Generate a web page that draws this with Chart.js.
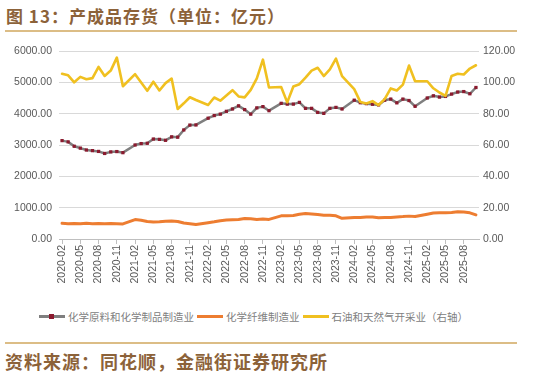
<!DOCTYPE html>
<html>
<head>
<meta charset="utf-8">
<script src="https://cdn.jsdelivr.net/npm/chart.js@4.4.1/dist/chart.umd.min.js"></script>
<style>
  body { margin: 0; width: 545px; height: 376px; background: #fff; position: relative; overflow: hidden; font-family: "Noto Sans CJK SC", sans-serif; }
  .title { position: absolute; left: 6px; top: 3px; font-size: 17px; font-weight: bold; color: #8c6239; letter-spacing: 1px; white-space: nowrap; }
  .rule { position: absolute; left: 5px; width: 512px; height: 2px; background: #dcbd86; }
  .source { position: absolute; left: 5px; top: 348px; font-size: 18px; font-weight: bold; color: #8c6239; letter-spacing: 1px; white-space: nowrap; }
  #chartBox { position: absolute; left: 0; top: 36px; width: 545px; height: 253px; }
  #legend { position: absolute; left: 39px; top: 309px; display: flex; align-items: center; font-size: 10.5px; color: #808080; white-space: nowrap; }
  .item { display: flex; align-items: center; margin-right: 3px; }
  .swatch { position: relative; width: 26px; height: 3px; margin-right: 3px; }
  .swatch i { position: absolute; left: 10px; top: -1px; width: 5px; height: 5px; }
</style>
</head>
<body>
<div class="title">图 13：产成品存货（单位：亿元）</div>
<div class="rule" style="top:30px"></div>
<div id="chartBox"><canvas id="chart"></canvas></div>
<div id="legend"></div>
<div class="rule" style="top:342px"></div>
<div class="source">资料来源：同花顺，金融街证券研究所</div>

<script>
// 月份（1月无单独数据）
const months = [
  '2020-02','2020-03','2020-04','2020-05','2020-06','2020-07','2020-08','2020-09','2020-10','2020-11','2020-12',
  '2021-01','2021-02','2021-03','2021-04','2021-05','2021-06','2021-07','2021-08','2021-09','2021-10','2021-11','2021-12',
  '2022-01','2022-02','2022-03','2022-04','2022-05','2022-06','2022-07','2022-08','2022-09','2022-10','2022-11','2022-12',
  '2023-01','2023-02','2023-03','2023-04','2023-05','2023-06','2023-07','2023-08','2023-09','2023-10','2023-11','2023-12',
  '2024-01','2024-02','2024-03','2024-04','2024-05','2024-06','2024-07','2024-08','2024-09','2024-10','2024-11','2024-12',
  '2025-01','2025-02','2025-03','2025-04','2025-05','2025-06','2025-07','2025-08','2025-09','2025-10'
];

// 化学原料和化学制品制造业（左轴）
const chemRaw = [
  3140, 3100, 2960, 2900, 2840, 2820, 2795, 2730, 2780, 2790, 2755,
  null, 3000, 3045, 3055, 3190, 3180, 3150, 3260, 3250, 3480, 3635, 3640,
  null, 3855, 3940, 3985, 4075, 4150, 4250, 4130, 3985, 4185, 4225, 4095,
  null, 4330, 4305, 4305, 4360, 4170, 4170, 4040, 4010, 4170, 4200, 4150,
  null, 4430, 4350, 4320, 4300, 4280, 4430, 4465, 4345, 4465, 4420, 4235,
  null, 4500, 4570, 4530, 4550, 4625, 4690, 4705, 4635, 4835
];

// 化学纤维制造业（左轴）
const chemFiber = [
  500, 490, 495, 485, 500, 490, 495, 490, 495, 490, 480,
  null, 620, 600, 560, 545, 550, 565, 575, 560, 510, 490, 460,
  null, 520, 550, 585, 605, 615, 625, 655, 645, 625, 635, 625,
  null, 740, 745, 750, 790, 815, 800, 780, 755, 760, 740, 660,
  null, 690, 690, 700, 705, 680, 690, 690, 705, 715, 730, 715,
  null, 790, 830, 836, 836, 845, 868, 860, 836, 770
];

// 石油和天然气开采业（右轴）
const oilGas = [
  105.5, 104.5, 100, 103.5, 102, 102.7, 109.8, 104.1, 107.5, 115.8, 97.5,
  null, 105.2, 99.9, 94.6, 100.4, 94.8, 99.5, 102.4, 83, 86.6, 90.5, 88.7,
  null, 85.5, 90.3, 88.3, 91.6, 95, 91, 90.4, 95.2, 102.5, 114.5, 96.7,
  null, 97, 87.2, 97.3, 98.8, 103, 107.5, 109.3, 104, 108.3, 115.1, 104,
  null, 95.7, 87.5, 86.5, 88, 85.5, 89.3, 96.1, 94.8, 98.5, 110.7, 100.7,
  null, 100.7, 96.2, 93.5, 91.4, 104.1, 105.5, 105, 108.8, 110.9
];

const leftTicks = [0, 1000, 2000, 3000, 4000, 5000, 6000];
const rightTicks = [0, 20, 40, 60, 80, 100, 120];

const names = ['化学原料和化学制品制造业', '化学纤维制造业', '石油和天然气开采业（右轴）'];
const colors = ['#7f7f7f', '#ed7d31', '#f0c020'];
const markerColor = '#8b1a2e';

const tickFont = { family: 'Liberation Sans', size: 10.5 };

const ctx = document.getElementById('chart').getContext('2d');
new Chart(ctx, {
  type: 'line',
  data: {
    labels: months,
    datasets: [
      {
        label: names[0], data: chemRaw, yAxisID: 'y', order: 3,
        borderColor: colors[0], borderWidth: 2.5,
        pointStyle: 'rect', pointRadius: 2.3,
        pointBackgroundColor: markerColor, pointBorderColor: markerColor, pointBorderWidth: 0
      },
      {
        label: names[1], data: chemFiber, yAxisID: 'y', order: 2,
        borderColor: colors[1], borderWidth: 3, pointRadius: 0
      },
      {
        label: names[2], data: oilGas, yAxisID: 'y1', order: 1,
        borderColor: colors[2], borderWidth: 2.6, pointRadius: 0
      }
    ]
  },
  options: {
    responsive: true,
    maintainAspectRatio: false,
    animation: false,
    spanGaps: true,
    layout: { padding: { top: 15, left: 0, right: 0, bottom: 0 } },
    elements: { line: { tension: 0, borderJoinStyle: 'round', borderCapStyle: 'round' } },
    plugins: { legend: { display: false }, tooltip: { enabled: false } },
    scales: {
      x: {
        offset: true,
        grid: { drawOnChartArea: false, drawTicks: true, tickLength: 5, color: '#bfbfbf' },
        border: { color: '#bfbfbf' },
        ticks: {
          autoSkip: false, maxRotation: 90, minRotation: 90, padding: 1,
          color: '#595959', font: tickFont,
          callback: (v, i) => (i % 3 === 0 ? months[i] : null)
        },
        afterFit: (s) => { s.height = 50; }
      },
      y: {
        position: 'left', min: 0, max: 6000,
        afterBuildTicks: (s) => { s.ticks = leftTicks.map(v => ({ value: v })); },
        grid: { color: '#d9d9d9', drawTicks: false },
        border: { display: false },
        ticks: { padding: 7, color: '#595959', font: tickFont, callback: (v) => v.toFixed(2) },
        afterFit: (s) => { s.width = 59; }
      },
      y1: {
        position: 'right', min: 0, max: 120,
        afterBuildTicks: (s) => { s.ticks = rightTicks.map(v => ({ value: v })); },
        grid: { drawOnChartArea: false, drawTicks: false },
        border: { display: false },
        ticks: { padding: 4, color: '#595959', font: tickFont, callback: (v) => v.toFixed(2) },
        afterFit: (s) => { s.width = 66; }
      }
    }
  }
});

// 凡例
const legend = document.getElementById('legend');
names.forEach((name, i) => {
  const item = document.createElement('div');
  item.className = 'item';
  const sw = document.createElement('span');
  sw.className = 'swatch';
  sw.style.background = colors[i];
  if (i === 0) {
    const m = document.createElement('i');
    m.style.background = markerColor;
    sw.appendChild(m);
  }
  item.appendChild(sw);
  const t = document.createElement('span');
  t.textContent = name;
  item.appendChild(t);
  legend.appendChild(item);
});
</script>
</body>
</html>
